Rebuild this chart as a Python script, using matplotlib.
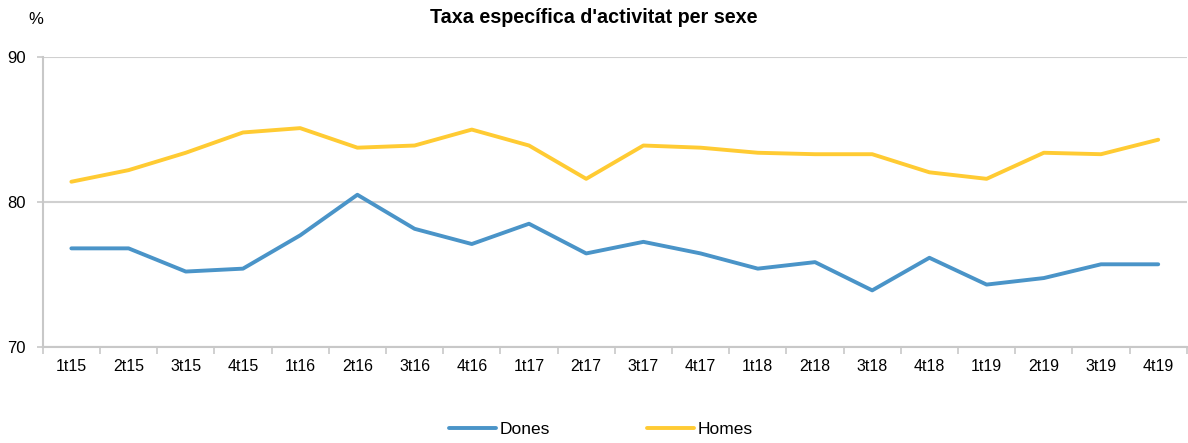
import matplotlib
matplotlib.use("Agg")
from matplotlib import pyplot as plt

plt.rcParams['font.family'] = ['Liberation Sans', 'DejaVu Sans']

periodes = ["1t15", "2t15", "3t15", "4t15", "1t16", "2t16", "3t16", "4t16", "1t17", "2t17",
            "3t17", "4t17", "1t18", "2t18", "3t18", "4t18", "1t19", "2t19", "3t19", "4t19"]
dones = [76.8, 76.8, 75.2, 75.4, 77.7, 80.5, 78.15, 77.1, 78.5, 76.45,
         77.25, 76.45, 75.4, 75.85, 73.9, 76.15, 74.3, 74.75, 75.7, 75.7]
homes = [81.4, 82.2, 83.4, 84.8, 85.1, 83.75, 83.9, 85.0, 83.9, 81.6,
         83.9, 83.75, 83.4, 83.3, 83.3, 82.05, 81.6, 83.4, 83.3, 84.3]

fig = plt.figure(figsize=(11.88, 4.43), dpi=100)
ax = fig.add_axes([0.036, 0.217, 0.963, 0.654])

x = range(len(periodes))
ax.plot(x, dones, color="#4A94C8", lw=2.8, label="Dones", solid_capstyle="round")
ax.plot(x, homes, color="#FFCB33", lw=2.8, label="Homes", solid_capstyle="round")

ax.set_xlim(-0.5, len(periodes) - 0.5)
ax.set_ylim(70, 90)
ax.set_yticks([70, 80, 90])
ax.set_xticks(list(x))
ax.set_xticklabels(periodes)
ax.set_xticks([i - 0.5 for i in range(len(periodes) + 1)], minor=True)
ax.tick_params(axis="x", which="major", length=0, labelsize=11.5, pad=9)
ax.tick_params(axis="x", which="minor", length=5, color="#C8C8C8", width=1.2)
ax.tick_params(axis="y", length=4, color="#C8C8C8", width=1.2, labelsize=12, pad=8)

ax.grid(axis="y", color="#D0D0D0", lw=1.5)
ax.set_axisbelow(True)
for s in ["top", "right"]:
    ax.spines[s].set_visible(False)
for s in ["left", "bottom"]:
    ax.spines[s].set_color("#C8C8C8")
    ax.spines[s].set_linewidth(1.5)

fig.text(0.5, 0.96, "Taxa específica d'activitat per sexe", ha="center", va="center",
         fontsize=14.2, fontweight="bold")
fig.text(0.03, 0.955, "%", ha="center", va="center", fontsize=12)

fig.legend(loc="center", bbox_to_anchor=(0.506, 0.03), ncol=2, frameon=False,
           fontsize=12.5, handlelength=2.7, handletextpad=0.2, columnspacing=5.6)

plt.savefig("out.png", dpi=100)
